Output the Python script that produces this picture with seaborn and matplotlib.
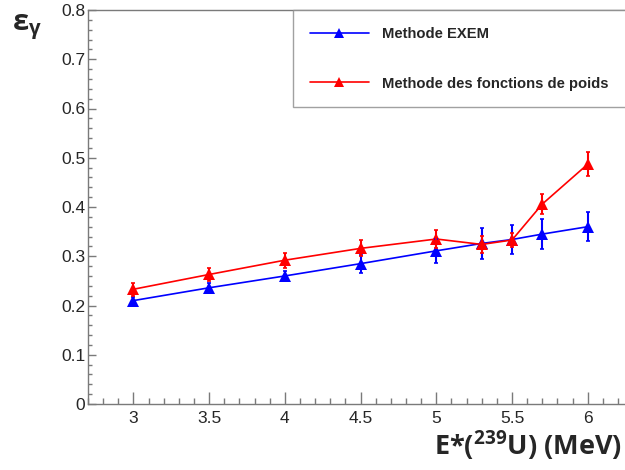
import numpy as np
import pandas as pd
import matplotlib
matplotlib.use("Agg")
import matplotlib.pyplot as plt
import seaborn as sns

# ---- data ----
energy_exem = [3.0, 3.5, 4.0, 4.5, 5.0, 5.3, 5.5, 5.7, 6.0]
eff_exem = [0.210, 0.236, 0.260, 0.285, 0.311, 0.326, 0.334, 0.345, 0.360]
err_exem = [0.008, 0.010, 0.010, 0.018, 0.025, 0.031, 0.030, 0.030, 0.030]

energy_poids = [3.0, 3.5, 4.0, 4.5, 5.0, 5.3, 5.5, 5.7, 6.0]
eff_poids = [0.233, 0.263, 0.292, 0.316, 0.335, 0.324, 0.333, 0.406, 0.487]
err_poids = [0.013, 0.014, 0.015, 0.016, 0.018, 0.017, 0.015, 0.021, 0.025]

series_names = ["Methode EXEM", "Methode des fonctions de poids"]
series_colors = ["#0000ff", "#ff0000"]
yticks = [0, 0.1, 0.2, 0.3, 0.4, 0.5, 0.6, 0.7, 0.8]
xticks = [3, 3.5, 4, 4.5, 5, 5.5, 6]

df = pd.DataFrame({
    "E": energy_exem + energy_poids,
    "eff": eff_exem + eff_poids,
    "method": [series_names[0]] * len(energy_exem) + [series_names[1]] * len(energy_poids),
})

sns.set_style("ticks")
plt.rcParams["font.family"] = ["Liberation Sans", "DejaVu Sans"]
plt.rcParams["mathtext.default"] = "regular"

W, H = 625, 470
fig = plt.figure(figsize=(W / 100, H / 100), dpi=100)
left_px, right_px, top_px, bottom_px = 88, 630, 10, 404
ax = fig.add_axes([left_px / W, (H - bottom_px) / H,
                   (right_px - left_px) / W, (bottom_px - top_px) / H])

sns.lineplot(data=df, x="E", y="eff", hue="method", palette=series_colors,
             marker="^", markersize=9, markeredgewidth=0, linewidth=1.2,
             ax=ax, legend=True, errorbar=None)

for xs, ys, es, c in [(energy_exem, eff_exem, err_exem, series_colors[0]),
                      (energy_poids, eff_poids, err_poids, series_colors[1])]:
    ax.errorbar(xs, ys, yerr=es, fmt="none", ecolor=c, elinewidth=1.5,
                capsize=1.5, capthick=1.2)

ax.set_xlim(2.7, 6 + (right_px - 587.7) / 151.6)
ax.set_ylim(0, 0.8)
ax.set_xticks(xticks)
ax.set_xticklabels([f"{t:g}" for t in xticks])
ax.set_yticks(yticks)
ax.set_yticklabels([f"{t:g}" for t in yticks])
ax.xaxis.set_minor_locator(matplotlib.ticker.MultipleLocator(0.1))
ax.yaxis.set_minor_locator(matplotlib.ticker.MultipleLocator(0.02))

gray = "#7a7a7a"
ax.tick_params(axis="x", which="major", direction="in", length=8.5, width=1,
               color=gray, labelsize=12.5, pad=5)
ax.tick_params(axis="x", which="minor", direction="in", length=4.3, width=1, color=gray)
ax.tick_params(axis="y", which="major", direction="in", length=6, width=1,
               color=gray, labelsize=12.5, pad=2)
ax.tick_params(axis="y", which="minor", direction="in", length=3, width=1, color=gray)
for s in ["left", "bottom", "top"]:
    ax.spines[s].set_color(gray)
    ax.spines[s].set_linewidth(1)
ax.spines["right"].set_visible(False)
ax.set_xlabel("")
ax.set_ylabel("")

handles, labels = ax.get_legend_handles_labels()
for h in handles:
    h.set_markersize(7)
leg = ax.legend(handles, labels, loc="upper left",
                bbox_to_anchor=(293 / W, (H - 10) / H, 0.6, 0.0),
                bbox_transform=fig.transFigure, mode="expand",
                prop={"family": ["Liberation Sans"], "weight": "bold", "size": 10.6},
                handlelength=4.0, handletextpad=0.9, labelspacing=2.42,
                borderpad=1.15, borderaxespad=0, frameon=True, fancybox=False)
leg.get_frame().set_edgecolor("#8a8a8a")
leg.get_frame().set_linewidth(1)

fig.text(622 / W, (H - 455) / H, "E*($^{239}$U) (MeV)", ha="right", va="baseline",
         fontfamily="Open Sans", fontweight="bold", fontsize=19.5)
fig.text(12 / W, (H - 30) / H, "ε$_{γ}$", ha="left", va="baseline",
         fontfamily="Open Sans", fontweight="bold", fontsize=21)

fig.savefig("out.png", dpi=100)
